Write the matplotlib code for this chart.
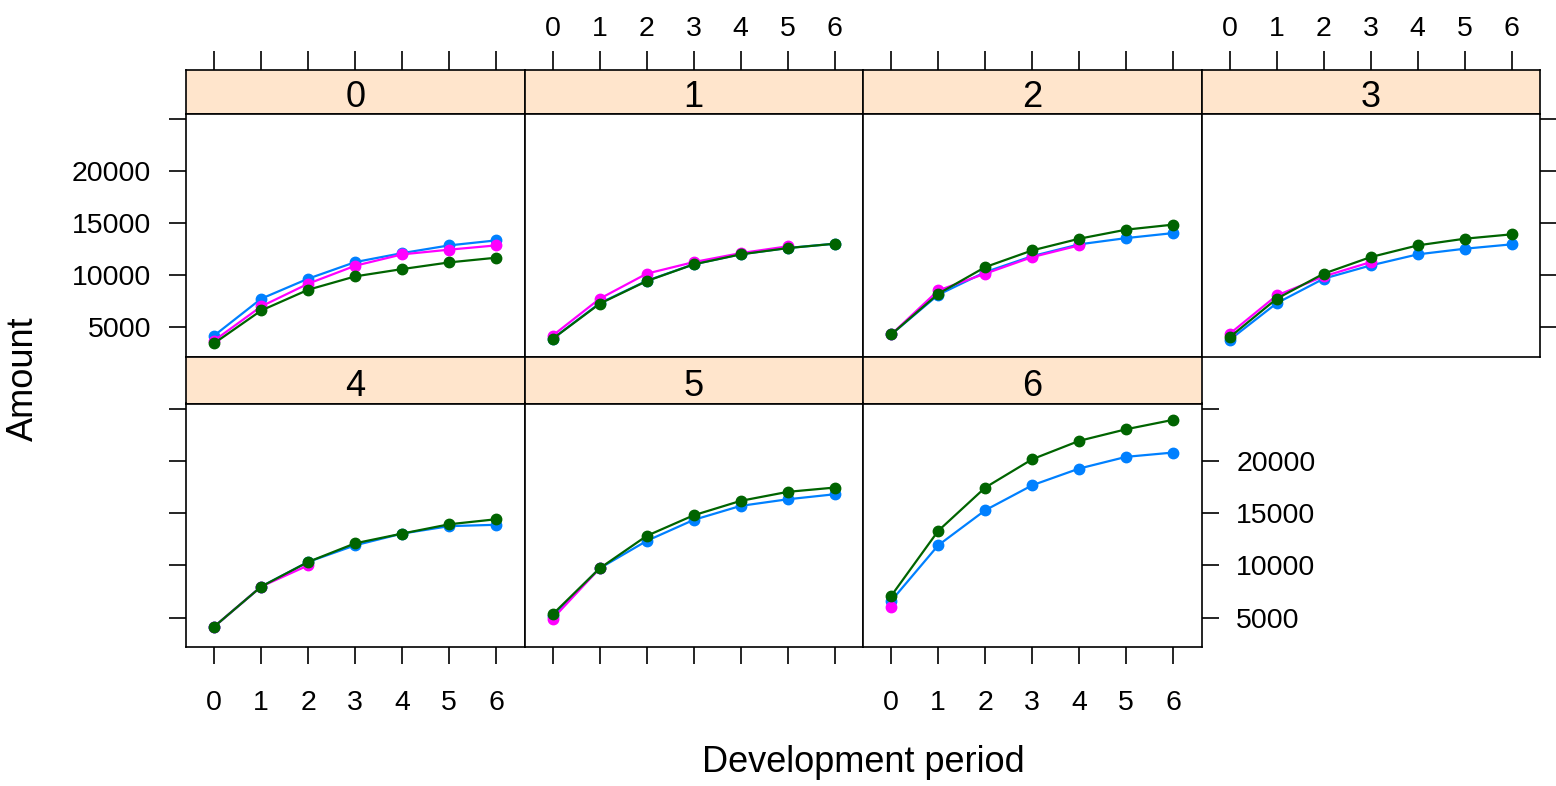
#!/usr/bin/env python3
"""Lattice-style panel plot: amount by development period, one panel per origin period."""
import matplotlib
matplotlib.use("Agg")
import matplotlib.pyplot as plt

plt.rcParams["font.family"] = ["Liberation Sans", "DejaVu Sans"]

W, H = 1556, 786

DEV = [0, 1, 2, 3, 4, 5, 6]
PANELS = ["0", "1", "2", "3", "4", "5", "6"]

# blue and green: full development
BLUE = [
    [4200, 7730, 9650, 11240, 12100, 12840, 13320],
    [3900, 7300, 9450, 11030, 11990, 12590, 13000],
    [4300, 8100, 10280, 11810, 12940, 13540, 14020],
    [3790, 7300, 9650, 10920, 11980, 12520, 12940],
    [4140, 7970, 10330, 11920, 13040, 13750, 13880],
    [5160, 9720, 12340, 14350, 15690, 16320, 16800],
    [6600, 11920, 15270, 17660, 19260, 20380, 20790],
]
# magenta: observed triangle only
MAGENTA = [
    [3720, 6990, 9170, 10890, 11980, 12430, 12840],
    [4200, 7730, 10130, 11240, 12100, 12750],
    [4300, 8520, 10130, 11720, 12840],
    [4370, 8040, 9870, 11240],
    [4140, 7970, 10000],
    [4900, 9720],
    [6050],
]
GREEN = [
    [3460, 6600, 8590, 9870, 10570, 11210, 11660],
    [3890, 7250, 9420, 11020, 11980, 12580, 13000],
    [4300, 8200, 10760, 12360, 13480, 14350, 14830],
    [4040, 7730, 10130, 11720, 12840, 13480, 13900],
    [4140, 7970, 10330, 12110, 13040, 13930, 14410],
    [5320, 9720, 12820, 14790, 16170, 17030, 17440],
    [7080, 13300, 17440, 20150, 21910, 23020, 23920],
]

YTICKS = [5000, 10000, 15000, 20000, 25000]
YTICKLABELS = ["5000", "10000", "15000", "20000", ""]

SERIES = [(BLUE, "#0080ff"), (MAGENTA, "#ff00ff"), (GREEN, "#006400")]

XLIM = (-0.6, 6.6)
YLIM = (2190, 25480)

COL_X = [186, 524.5, 863, 1201.5, 1540]
ROWS = [  # strip top, panel top, panel bottom
    (70, 113.5, 356.5),
    (356.5, 403.5, 647),
]

TICK_FS = 20.5
LAB_FS = 26
LW = 1.2


def rect(x0, y0, x1, y1):
    return [x0 / W, 1 - y1 / H, (x1 - x0) / W, (y1 - y0) / H]


fig = plt.figure(figsize=(W / 100, H / 100), dpi=100)

for k, name in enumerate(PANELS):
    row, col = divmod(k, 4)
    st, pt, pb = ROWS[row]
    x0, x1 = COL_X[col], COL_X[col + 1]

    # strip
    sax = fig.add_axes(rect(x0, st, x1, pt))
    sax.set_facecolor("#ffe5cc")
    sax.set_xlim(*XLIM)
    sax.set_ylim(st - pt, 0)
    sax.set_yticks([])
    sax.text(0.5, 0.5, name, transform=sax.transAxes, ha="center", va="center",
             fontsize=LAB_FS)
    sax.texts[-1].set_y(0.37)
    for s in sax.spines.values():
        s.set_linewidth(LW)
    if row == 0:
        sax.set_xticks(DEV)
        sax.set_xticklabels([str(d) for d in DEV])
        sax.tick_params(axis="x", direction="out", length=14, width=LW,
                        bottom=False, labelbottom=False, top=True,
                        labeltop=(col % 2 == 1), labelsize=TICK_FS, pad=6)
    else:
        sax.set_xticks([])

    # panel
    ax = fig.add_axes(rect(x0, pt, x1, pb))
    for vals, color in SERIES:
        v = vals[k]
        ax.plot(DEV[:len(v)], v, color=color, lw=1.6, marker="o", ms=7.5,
                mec=color, mfc=color, zorder=3)
    ax.set_xlim(*XLIM)
    ax.set_ylim(*YLIM)
    ax.set_xticks(DEV)
    ax.set_xticklabels([str(d) for d in DEV])
    ax.set_yticks(YTICKS)
    ax.set_yticklabels(YTICKLABELS)
    for s in ax.spines.values():
        s.set_linewidth(LW)

    is_bottom = row == 1
    is_left = col == 0
    is_right = (row == 0 and col == 3) or (row == 1 and col == 2)
    ax.tick_params(axis="x", direction="out", length=12, width=LW,
                   top=False, labeltop=False,
                   bottom=is_bottom, labelbottom=is_bottom and col % 2 == 0,
                   labelsize=TICK_FS, pad=19)
    ax.tick_params(axis="y", direction="out", length=12, width=LW,
                   left=is_left, labelleft=is_left and row == 0,
                   right=is_right, labelright=is_right and row == 1,
                   labelsize=TICK_FS, pad=13)

fig.text(863 / W, 1 - 763 / H, "Development period", ha="center", va="center",
         fontsize=LAB_FS)
fig.text(23 / W, 1 - 379 / H, "Amount", ha="center", va="center",
         rotation=90, fontsize=LAB_FS)

fig.savefig("out.png", dpi=100)
